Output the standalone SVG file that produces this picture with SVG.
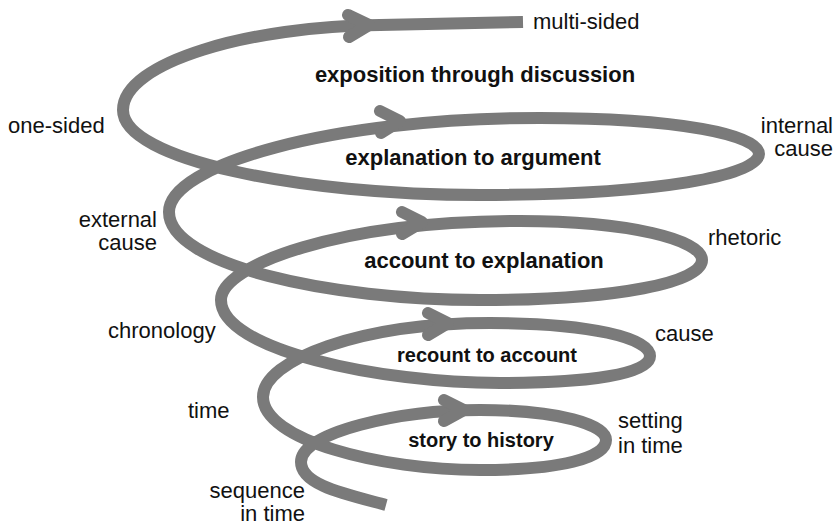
<svg xmlns="http://www.w3.org/2000/svg" width="836" height="527" viewBox="0 0 836 527">
  <style>
    .spiral { fill: none; stroke: #7a7a7a; stroke-width: 12; stroke-linecap: butt; stroke-linejoin: round; }
    .head { fill: none; stroke: #7a7a7a; stroke-width: 12; stroke-linecap: round; stroke-linejoin: round; }
    .lbl { font-family: "Liberation Sans", Arial, sans-serif; font-size: 22px; fill: #111; }
    .stage { font-family: "Liberation Sans", Arial, sans-serif; font-size: 22px; font-weight: bold; fill: #111; text-anchor: middle; }
    .small { font-size: 20px; }
    .end { text-anchor: end; }
  </style>
  <rect width="836" height="527" fill="#fff"/>
  <g id="connectors">
    <path class="spiral" d="M386,505 C345,494 301,485 301,462 C301,432 400,410 480,410 C560,410 606,425 606,440 C606,458 560,470 480,470 C380,470 263,440 263,397 C263,360 360,323 490,323 C590,323 650,338 650,356 C650,374 590,383 500,383 C380,383 221,350 221,300 C221,265 340,221 520,221 C630,221 702,240 702,260 C702,282 620,300 480,300 C330,300 169,265 169,212 C169,165 330,118 540,118 C680,118 759,135 759,154 C759,175 660,195 480,195 C300,195 123,160 123,110 C123,62 250,26 380,25 L523,22"/>
    <polyline class="head" points="444,400 464,410 444,421"/>
    <polyline class="head" points="428,313 448,323 428,335"/>
    <polyline class="head" points="402,212 422,222 402,234"/>
    <polyline class="head" points="380,111 400,121 381,133"/>
    <polyline class="head" points="348,15 369,25 349,37"/>
  </g>
  <g id="exposition-through-discussion"><text class="stage" x="475" y="82">exposition through discussion</text></g>
  <g id="explanation-to-argument"><text class="stage" x="473" y="165">explanation to argument</text></g>
  <g id="account-to-explanation"><text class="stage" x="484" y="268">account to explanation</text></g>
  <g id="recount-to-account"><text class="stage small" x="487" y="362">recount to account</text></g>
  <g id="story-to-history"><text class="stage small" x="481" y="447">story to history</text></g>
  <g id="multi-sided"><text class="lbl" x="533" y="29">multi-sided</text></g>
  <g id="one-sided"><text class="lbl" x="8" y="133">one-sided</text></g>
  <g id="internal-cause"><text class="lbl end" x="833" y="133">internal</text><text class="lbl end" x="833" y="156">cause</text></g>
  <g id="external-cause"><text class="lbl end" x="157" y="227">external</text><text class="lbl end" x="157" y="250">cause</text></g>
  <g id="rhetoric"><text class="lbl" x="708" y="245">rhetoric</text></g>
  <g id="chronology"><text class="lbl" x="108" y="338">chronology</text></g>
  <g id="cause"><text class="lbl" x="655" y="341">cause</text></g>
  <g id="time"><text class="lbl" x="188" y="418">time</text></g>
  <g id="setting-in-time"><text class="lbl" x="618" y="428">setting</text><text class="lbl" x="618" y="453">in time</text></g>
  <g id="sequence-in-time"><text class="lbl end" x="305" y="498">sequence</text><text class="lbl end" x="305" y="521">in time</text></g>
</svg>
